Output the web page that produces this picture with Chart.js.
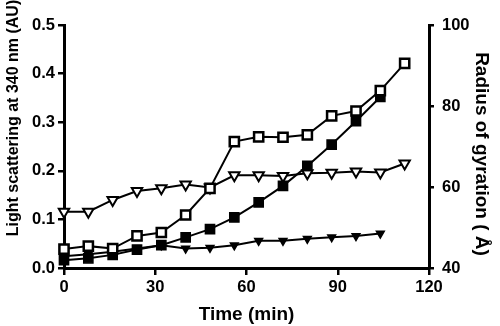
<!DOCTYPE html>
<html>
<head>
<meta charset="utf-8">
<title>Light scattering and radius of gyration</title>
<script src="https://cdn.jsdelivr.net/npm/chart.js@4.4.0/dist/chart.umd.min.js"></script>
<style>
  body { margin: 0; background: #fff; }
  canvas { display: block; }
</style>
</head>
<body>
<canvas id="chart" width="500" height="326"></canvas>
<script>
// time points (min)
const times = [0, 8, 16, 24, 32, 40, 48, 56, 64, 72, 80, 88, 96, 104, 112];

// light scattering at 340 nm (AU) - left axis
const openSquares = [0.039, 0.045, 0.040, 0.066, 0.073, 0.109, 0.164, 0.260, 0.270, 0.269, 0.274, 0.313, 0.323, 0.365, 0.421];
const filledSquares = [0.016, 0.020, 0.027, 0.038, 0.047, 0.063, 0.080, 0.104, 0.135, 0.169, 0.210, 0.254, 0.302, 0.352];

// radius of gyration (Å) - right axis
const openTriangles = [53.9, 53.9, 56.8, 59.0, 59.7, 60.6, 59.9, 62.9, 62.9, 62.7, 63.4, 63.5, 63.8, 63.6, 65.8];
const filledTriangles = [42.9, 43.4, 44.0, 44.8, 45.6, 44.8, 45.0, 45.6, 46.7, 46.7, 47.2, 47.6, 47.9, 48.5];

// tick labels
const xTicks = [0, 30, 60, 90, 120];
const leftTicks = [0, 0.1, 0.2, 0.3, 0.4, 0.5];
const rightTicks = [40, 60, 80, 100];

const toPoints = values => values.map((v, i) => ({ x: times[i], y: v }));

Chart.defaults.font.family = '"Liberation Sans", Arial, sans-serif';
Chart.defaults.font.weight = 'bold';
Chart.defaults.color = '#000';

// the two y titles are not centred on their axes in the original, so draw them here
function drawRotated(ctx, text, x, y, angle, size) {
    ctx.save();
    ctx.translate(x, y);
    ctx.rotate(angle);
    ctx.font = 'bold ' + size + 'px "Liberation Sans", Arial, sans-serif';
    ctx.fillStyle = '#000';
    ctx.textAlign = 'center';
    ctx.textBaseline = 'middle';
    ctx.fillText(text, 0, 0);
    ctx.restore();
}

const axisTitles = {
    id: 'axisTitles',
    afterDraw(chart) {
        drawRotated(chart.ctx, 'Light scattering at 340 nm (AU)', 14, 118, -Math.PI / 2, 16);
        drawRotated(chart.ctx, 'Radius of gyration ( Å)', 481, 154, Math.PI / 2, 19);
    }
};

const tickGrid = {
    drawOnChartArea: false,
    drawTicks: true,
    color: '#000',
    lineWidth: 2.5
};

const ctx = document.getElementById('chart').getContext('2d');
new Chart(ctx, {
    type: 'line',
    data: {
        datasets: [
            {
                label: 'open squares',
                data: toPoints(openSquares),
                yAxisID: 'y',
                borderColor: '#000',
                borderWidth: 2,
                pointStyle: 'rect',
                pointRadius: 6.5,
                pointBorderWidth: 2.5,
                pointBackgroundColor: '#fff',
                pointBorderColor: '#000',
                clip: false
            },
            {
                label: 'filled squares',
                data: toPoints(filledSquares),
                yAxisID: 'y',
                borderColor: '#000',
                borderWidth: 2,
                pointStyle: 'rect',
                pointRadius: 6.5,
                pointBorderWidth: 1.5,
                pointBackgroundColor: '#000',
                pointBorderColor: '#000',
                clip: false
            },
            {
                label: 'open triangles',
                data: toPoints(openTriangles),
                yAxisID: 'y1',
                borderColor: '#000',
                borderWidth: 2,
                pointStyle: 'triangle',
                pointRotation: 180,
                pointRadius: 6,
                pointBorderWidth: 2,
                pointBackgroundColor: '#fff',
                pointBorderColor: '#000',
                clip: false
            },
            {
                label: 'filled triangles',
                data: toPoints(filledTriangles),
                yAxisID: 'y1',
                borderColor: '#000',
                borderWidth: 2,
                pointStyle: 'triangle',
                pointRotation: 180,
                pointRadius: 4.5,
                pointBorderWidth: 1.5,
                pointBackgroundColor: '#000',
                pointBorderColor: '#000',
                clip: false
            }
        ]
    },
    options: {
        responsive: false,
        animation: false,
        layout: { padding: { top: 25, left: 0, right: 0, bottom: 0 } },
        plugins: {
            legend: { display: false },
            tooltip: { enabled: false }
        },
        scales: {
            x: {
                type: 'linear',
                min: 0,
                max: 120,
                afterBuildTicks: scale => { scale.ticks = xTicks.map(v => ({ value: v })); },
                afterFit: scale => { scale.height = 58; },
                border: { color: '#000', width: 3 },
                grid: { ...tickGrid, tickLength: 7 },
                ticks: { font: { size: 16.5, weight: 'bold' }, padding: 3, maxRotation: 0 },
                title: {
                    display: true,
                    text: 'Time (min)',
                    font: { size: 19, weight: 'bold' },
                    padding: { top: 0, bottom: 0 }
                }
            },
            y: {
                position: 'left',
                min: 0,
                max: 0.5,
                afterBuildTicks: scale => { scale.ticks = leftTicks.map(v => ({ value: v })); },
                afterFit: scale => { scale.width = 64; },
                border: { color: '#000', width: 3 },
                grid: { ...tickGrid, tickLength: 6 },
                ticks: {
                    font: { size: 16.5, weight: 'bold' },
                    padding: 3,
                    callback: v => v.toFixed(1)
                }
            },
            y1: {
                position: 'right',
                min: 40,
                max: 100,
                afterBuildTicks: scale => { scale.ticks = rightTicks.map(v => ({ value: v })); },
                afterFit: scale => { scale.width = 71; },
                border: { color: '#000', width: 3 },
                grid: { ...tickGrid, tickLength: 5 },
                ticks: { font: { size: 16.5, weight: 'bold' }, padding: 8 }
            }
        }
    },
    plugins: [axisTitles]
});
</script>
</body>
</html>
